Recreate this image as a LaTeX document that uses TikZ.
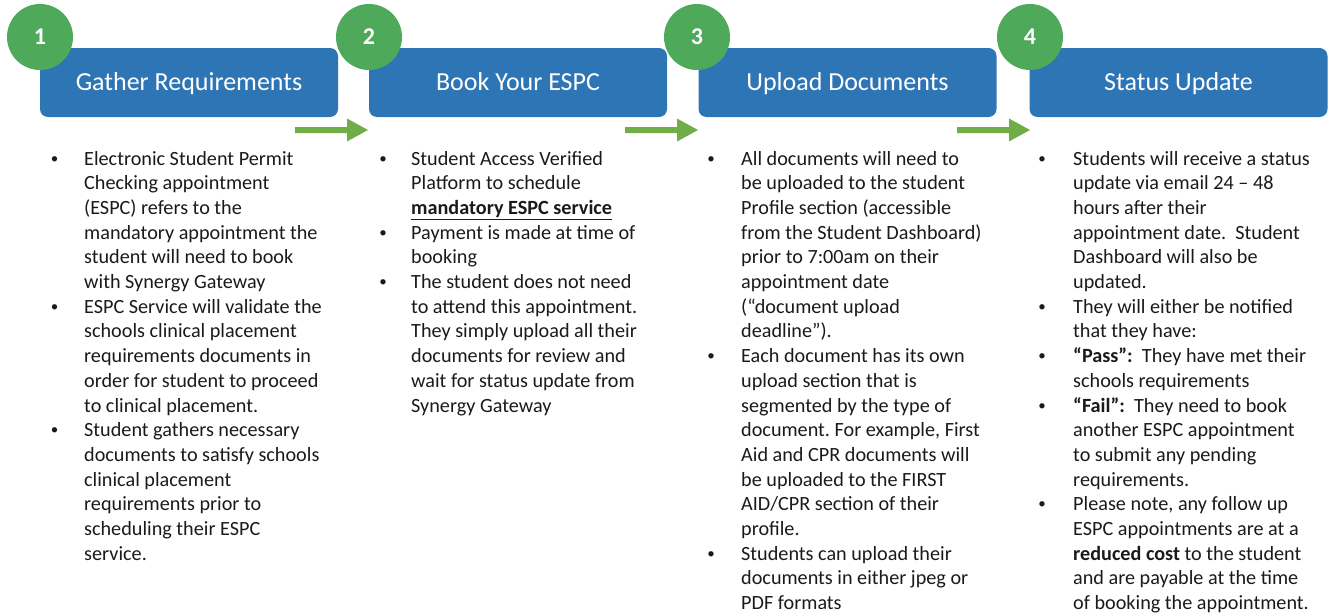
\documentclass[tikz,border=0pt]{standalone}
\usepackage{fontspec}
\setmainfont{Carlito}
\frenchspacing
\definecolor{boxblue}{HTML}{2E75B6}
\definecolor{circgreen}{HTML}{4EA95B}
\definecolor{arrgreen}{HTML}{70AD47}
\definecolor{txt}{HTML}{1A1A1A}
\newcounter{tlc}
\newcommand{\tline}[3]{\stepcounter{tlc}\node[bodytext] (tl\thetlc) at (#1,{165+24.7*#2}) {#3};}
\newcommand{\bul}[2]{\stepcounter{tlc}\node[bullettext] (bu\thetlc) at (#1,{163+24.7*#2}) {•};}
\begin{document}
\begin{tikzpicture}[x=1pt,y=-1pt,
  titlebox/.style={draw=none,fill=boxblue,rounded corners=8pt,minimum width=298pt,minimum height=69pt,inner sep=0pt,text height=18pt,text depth=2pt,text=white,font=\fontsize{26}{30}\selectfont},
  numcirc/.style={circle,fill=circgreen,minimum size=66pt,inner sep=0pt,text=white,font=\fontsize{24}{28}\selectfont\bfseries},
  bodytext/.style={anchor=base west,inner sep=0pt,text=txt,font=\fontsize{20.2}{24}\selectfont},
  bullettext/.style={anchor=base,inner sep=0pt,text=txt,font=\fontsize{15}{18}\selectfont},
  blockarrow/.style={fill=arrgreen,draw=none}]
\useasboundingbox (0,0) rectangle (1330,613);
% boxes
\node[titlebox] (b1) at (189,82.5) {Gather Requirements};
\node[titlebox] (b2) at (518,82.5) {Book Your ESPC};
\node[titlebox] (b3) at (847.5,82.5) {Upload Documents};
\node[titlebox] (b4) at (1178.5,82.5) {Status Update};
% circles
\node[numcirc] (c1) at (40,37) {1};
\node[numcirc] (c2) at (369,37) {2};
\node[numcirc] (c3) at (697,37) {3};
\node[numcirc] (c4) at (1030,37) {4};
% arrows
\foreach \s/\e [count=\i] in {295/368, 625/698, 957/1030}{
  \coordinate (a\i s) at (\s,130);
  \coordinate (a\i e) at (\e,130);
  \fill[blockarrow] (a\i s) ++(0,-3) -- ++({\e-\s-21},0) -- ++(0,-8.5) -- (a\i e) -- ++(-21,11.5) -- ++(0,-8.5) -- ++({-(\e-\s-21)},0) -- cycle;
}
% column 1
\bul{54.5}{0}\tline{84}{0}{Electronic Student Permit}
\tline{84}{1}{Checking appointment}
\tline{84}{2}{(ESPC) refers to the}
\tline{84}{3}{mandatory appointment the}
\tline{84}{4}{student will need to book}
\tline{84}{5}{with Synergy Gateway}
\bul{54.5}{6}\tline{84}{6}{ESPC Service will validate the}
\tline{84}{7}{schools clinical placement}
\tline{84}{8}{requirements documents in}
\tline{84}{9}{order for student to proceed}
\tline{84}{10}{to clinical placement.}
\bul{54.5}{11}\tline{84}{11}{Student gathers necessary}
\tline{84}{12}{documents to satisfy schools}
\tline{84}{13}{clinical placement}
\tline{84}{14}{requirements prior to}
\tline{84}{15}{scheduling their ESPC}
\tline{84}{16}{service.}
% column 2
\bul{383}{0}\tline{411}{0}{Student Access Verified}
\tline{411}{1}{Platform to schedule}
\tline{411}{2}{\underline{\textbf{mandatory ESPC service}}}
\bul{383}{3}\tline{411}{3}{Payment is made at time of}
\tline{411}{4}{booking}
\bul{383}{5}\tline{411}{5}{The student does not need}
\tline{411}{6}{to attend this appointment.}
\tline{411}{7}{They simply upload all their}
\tline{411}{8}{documents for review and}
\tline{411}{9}{wait for status update from}
\tline{411}{10}{Synergy Gateway}
% column 3
\bul{711}{0}\tline{741}{0}{All documents will need to}
\tline{741}{1}{be uploaded to the student}
\tline{741}{2}{Profile section (accessible}
\tline{741}{3}{from the Student Dashboard)}
\tline{741}{4}{prior to 7:00am on their}
\tline{741}{5}{appointment date}
\tline{741}{6}{(“document upload}
\tline{741}{7}{deadline”).}
\bul{711}{8}\tline{741}{8}{Each document has its own}
\tline{741}{9}{upload section that is}
\tline{741}{10}{segmented by the type of}
\tline{741}{11}{document. For example, First}
\tline{741}{12}{Aid and CPR documents will}
\tline{741}{13}{be uploaded to the FIRST}
\tline{741}{14}{AID/CPR section of their}
\tline{741}{15}{profile.}
\bul{711}{16}\tline{741}{16}{Students can upload their}
\tline{741}{17}{documents in either jpeg or}
\tline{741}{18}{PDF formats}
% column 4
\bul{1042}{0}\tline{1073}{0}{Students will receive a status}
\tline{1073}{1}{update via email 24 – 48}
\tline{1073}{2}{hours after their}
\tline{1073}{3}{appointment date.\ \ Student}
\tline{1073}{4}{Dashboard will also be}
\tline{1073}{5}{updated.}
\bul{1042}{6}\tline{1073}{6}{They will either be notified}
\tline{1073}{7}{that they have:}
\bul{1042}{8}\tline{1073}{8}{\textbf{“Pass”:}\ \ They have met their}
\tline{1073}{9}{schools requirements}
\bul{1042}{10}\tline{1073}{10}{\textbf{“Fail”:}\ \ They need to book}
\tline{1073}{11}{another ESPC appointment}
\tline{1073}{12}{to submit any pending}
\tline{1073}{13}{requirements.}
\bul{1042}{14}\tline{1073}{14}{Please note, any follow up}
\tline{1073}{15}{ESPC appointments are at a}
\tline{1073}{16}{\textbf{reduced cost} to the student}
\tline{1073}{17}{and are payable at the time}
\tline{1073}{18}{of booking the appointment.}
\end{tikzpicture}
\end{document}
